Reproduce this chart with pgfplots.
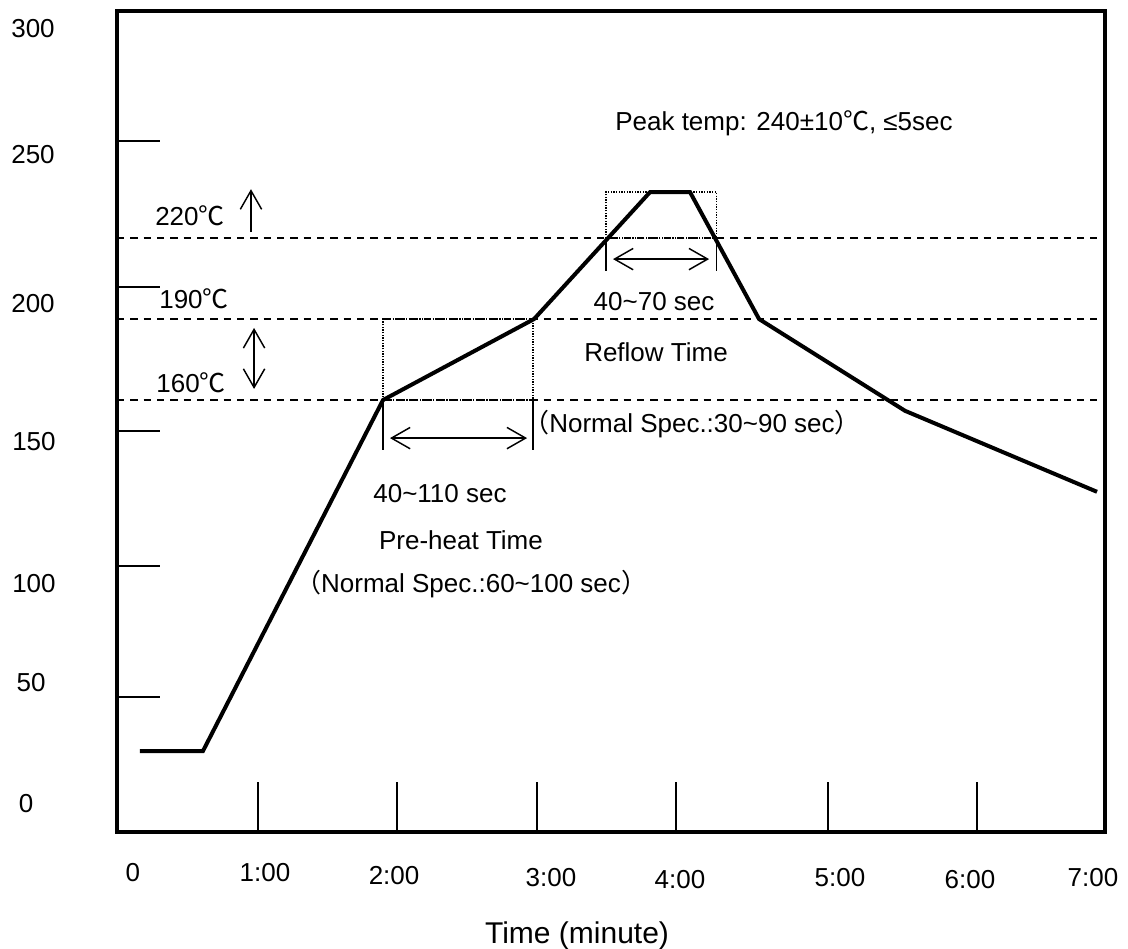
\documentclass[border=0pt]{standalone}
\usepackage{pgfplots}
\pgfplotsset{compat=1.18}
\usetikzlibrary{arrows.meta}
\usepackage{fontspec}
\setmainfont{Liberation Sans}
\newfontfamily\cjk{Noto Sans CJK SC}
\newcommand{\degC}{{\cjk ℃}}

% reflow profile: x in minutes, y in degrees C
\pgfplotstableread{
t T
0.164 30
0.614 30
1.900 160
2.979 190
3.807 237
4.093 237
4.586 190
5.629 156
7.000 126
}\profile

\begin{document}
\begin{tikzpicture}[
    lab/.style={font=\fontsize{19.5pt}{22pt}\selectfont, inner sep=0pt,
                text height=14pt, text depth=0pt, anchor=center},
    barb/.style={line width=1.1pt, {Straight Barb[length=14pt,width=16pt]}-{Straight Barb[length=14pt,width=16pt]}},
  ]
\begin{axis}[
    scale only axis,
    width=741pt, height=615.75pt,
    xmin=0, xmax=7.057,
    ymin=0, ymax=304.1,
    clip=false,
    axis line style={line width=3pt},
    tick pos=left,
    tick align=inside,
    xtick={1.007,2,3,3.993,5.079,6.143},
    ytick={50,98.5,148.5,201.9,255.9},
    xticklabels={}, yticklabels={},
    every tick/.style={black, line width=1.1pt},
    x tick style={/pgfplots/major tick length=37.5pt},
    y tick style={/pgfplots/major tick length=32.25pt},
  ]
% limit lines
\addplot[black, line width=1.2pt, dash pattern=on 5.5pt off 4.5pt] coordinates {(0,220) (7.0,220)};
\addplot[black, line width=1.2pt, dash pattern=on 5.5pt off 4.5pt] coordinates {(0,190) (7.0,190)};
\addplot[black, line width=1.2pt, dash pattern=on 5.5pt off 4.5pt] coordinates {(0,160) (7.0,160)};

% dotted zones
\addplot[black, line width=1pt, dash pattern=on 1pt off 1pt] coordinates {(1.9,160) (1.9,190) (2.971,190) (2.971,160) (1.9,160)};
\addplot[black, line width=1pt, dash pattern=on 1pt off 1pt] coordinates {(3.493,220) (3.493,237) (4.283,237) (4.283,220) (3.493,220)};

% time markers
\addplot[black, line width=1.1pt] coordinates {(1.9,160) (1.9,141.5)};
\addplot[black, line width=1.1pt] coordinates {(2.971,160) (2.971,141.5)};
\addplot[black, line width=1.1pt] coordinates {(3.493,220) (3.493,207.8)};
\addplot[black, line width=1.1pt] coordinates {(4.283,220) (4.283,207.8)};

% arrows
\addplot[black, barb] coordinates {(1.95,145.9) (2.929,145.9)};
\addplot[black, barb] coordinates {(3.543,212.2) (4.229,212.2)};
\addplot[black, barb] coordinates {(0.979,186.7) (0.979,164.1)};
\addplot[black, line width=1.1pt, -{Straight Barb[length=14pt,width=16pt]}] coordinates {(0.957,222.2) (0.957,238.1)};

% profile
\addplot[black, line width=3pt, line join=miter] table[x=t, y=T] {\profile};

% tick labels
\node[lab] at (-0.6,297.8) {300};
\node[lab] at (-0.6,251.1) {250};
\node[lab] at (-0.6,195.9) {200};
\node[lab] at (-0.593,144.8) {150};
\node[lab] at (-0.593,92.2) {100};
\node[lab] at (-0.614,55.6) {50};
\node[lab] at (-0.65,10.7) {0};

\node[lab] at (0.114,-14.8) {0};
\node[lab] at (1.057,-14.8) {1:00};
\node[lab] at (1.979,-15.9) {2:00};
\node[lab] at (3.100,-16.7) {3:00};
\node[lab] at (4.021,-17.4) {4:00};
\node[lab] at (5.164,-16.7) {5:00};
\node[lab] at (6.093,-17.4) {6:00};
\node[lab] at (6.971,-16.7) {7:00};

\node[lab, font=\fontsize{22.5pt}{26pt}\selectfont, text height=16pt] at (3.286,-37.4) {Time (minute)};

% annotations
\node[lab] at (4.764,263.3) {Peak temp: 240±10\degC, ≤5sec};
\node[lab] at (0.521,228.1) {220\degC};
\node[lab] at (0.550,197.4) {190\degC};
\node[lab] at (0.529,166.3) {160\degC};
\node[lab] at (3.836,196.7) {40\textasciitilde 70 sec};
\node[lab] at (3.850,177.8) {Reflow Time};
\node[lab] at (4.107,151.5) {{\cjk （}Normal Spec.:30\textasciitilde 90 sec{\cjk ）}};
\node[lab] at (2.307,125.6) {40\textasciitilde 110 sec};
\node[lab] at (2.457,108.1) {Pre-heat Time};
\node[lab] at (2.529,92.2) {{\cjk （}Normal Spec.:60\textasciitilde 100 sec{\cjk ）}};
\end{axis}
\pgfresetboundingbox
\path[use as bounding box] (-87.75pt,-87.75pt) rectangle (758.25pt,624pt);
\end{tikzpicture}
\end{document}
